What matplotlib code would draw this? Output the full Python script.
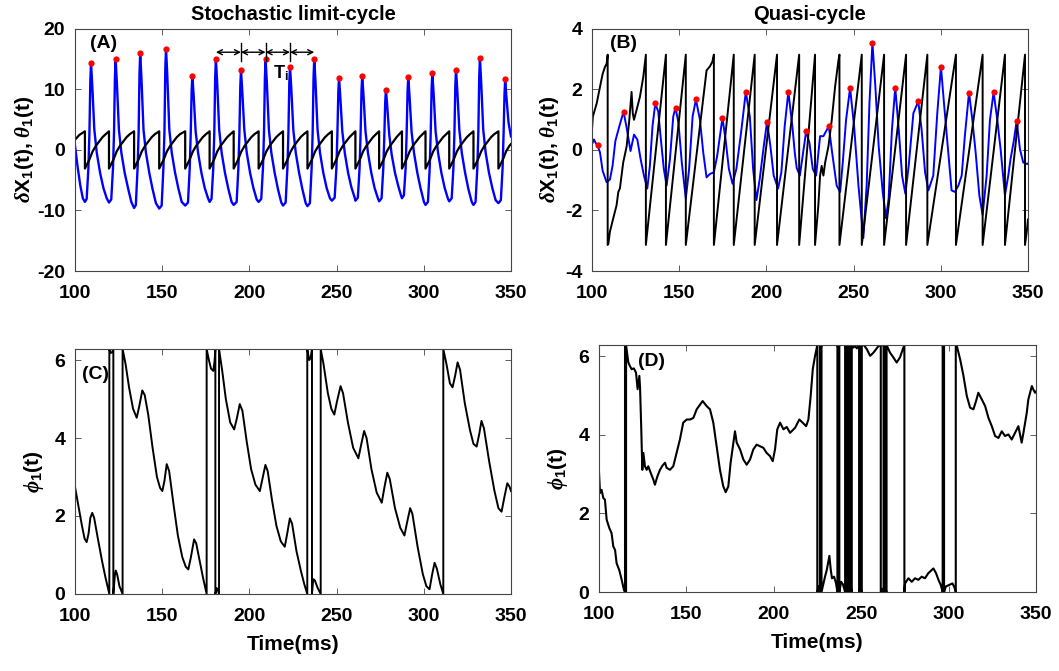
import numpy as np
import matplotlib
matplotlib.use('Agg')
import matplotlib.pyplot as plt

# fonts: narrow bold sans, greek in serif italic
plt.rcParams['font.family'] = ['Liberation Sans Narrow', 'Liberation Sans', 'DejaVu Sans']
plt.rcParams['font.weight'] = 'bold'
plt.rcParams['axes.labelweight'] = 'bold'
plt.rcParams['axes.titleweight'] = 'bold'
plt.rcParams['axes.unicode_minus'] = False
plt.rcParams['mathtext.fontset'] = 'custom'
plt.rcParams['mathtext.rm'] = 'Liberation Sans:bold'
plt.rcParams['mathtext.bf'] = 'Liberation Sans:bold'
plt.rcParams['mathtext.it'] = 'Liberation Serif:italic'

# ---------------- panel A : stochastic limit-cycle ----------------
# spike peaks (red dots)
a_peak_t = [109.2, 123.3, 137.4, 152.2, 167.3, 180.8, 195.2, 209.3, 223.3,
            237.2, 251.4, 264.7, 278.3, 291.1, 304.9, 318.5, 332.2, 346.7]
a_peak_v = [14.3, 14.9, 15.9, 16.7, 12.2, 15.0, 13.1, 14.9, 13.7,
            15.0, 11.9, 12.2, 9.9, 12.0, 12.6, 13.2, 15.1, 11.6]

# delta X_1(t), blue
a_dx_t = [100.0, 101.5, 103.0, 104.5,
          105.7, 106.7, 107.7, 108.3, 108.8, 109.2, 109.9, 111.1, 112.5, 114.4, 116.3, 118.2,
          119.5, 120.8, 121.8, 122.4, 122.9, 123.3, 124.0, 125.2, 126.6, 128.5, 130.4, 132.3,
          133.9, 134.9, 135.9, 136.5, 137.0, 137.4, 138.1, 139.3, 140.7, 142.6, 144.5, 146.4,
          148.3, 149.7, 150.7, 151.3, 151.8, 152.2, 152.9, 154.1, 155.5, 157.4, 159.3, 161.2,
          163.2, 164.8, 165.8, 166.4, 166.9, 167.3, 168.0, 169.2, 170.6, 172.5, 174.4, 176.3,
          177.2, 178.3, 179.3, 179.9, 180.4, 180.8, 181.5, 182.7, 184.1, 186.0, 187.9, 189.8,
          191.0, 192.7, 193.7, 194.3, 194.8, 195.2, 195.9, 197.1, 198.5, 200.4, 202.3, 204.2,
          205.3, 206.8, 207.8, 208.4, 208.9, 209.3, 210.0, 211.2, 212.6, 214.5, 216.4, 218.3,
          219.3, 220.8, 221.8, 222.4, 222.9, 223.3, 224.0, 225.2, 226.6, 228.5, 230.4, 232.3,
          233.3, 234.7, 235.7, 236.3, 236.8, 237.2, 237.9, 239.1, 240.5, 242.4, 244.3, 246.2,
          247.3, 248.9, 249.9, 250.5, 251.0, 251.4, 252.1, 253.3, 254.7, 256.6, 258.5, 260.4,
          260.8, 262.2, 263.2, 263.8, 264.3, 264.7, 265.4, 266.6, 268.0, 269.9, 271.8, 273.7,
          274.4, 275.8, 276.8, 277.4, 277.9, 278.3, 279.0, 280.2, 281.6, 283.5, 285.4, 287.0,
          287.5, 288.6, 289.6, 290.2, 290.7, 291.1, 291.8, 293.0, 294.4, 296.3, 298.2, 300.1,
          301.0, 302.4, 303.4, 304.0, 304.5, 304.9, 305.6, 306.8, 308.2, 310.1, 312.0, 313.9,
          314.6, 316.0, 317.0, 317.6, 318.1, 318.5, 319.2, 320.4, 321.8, 323.7, 325.6, 327.5,
          328.5, 329.7, 330.7, 331.3, 331.8, 332.2, 332.9, 334.1, 335.5, 337.4, 339.3, 341.2,
          342.8, 344.2, 345.2, 345.8, 346.3, 346.7, 347.4, 348.6, 350.0]
a_dx_v = [0.7, -2.8, -5.8, -8.0,
          -8.6, -8.1, -3.0, 3.0, 11.4, 14.3, 10.7, 3.3, -0.5, -3.8, -6.3, -8.0,
          -8.7, -8.2, -3.0, 3.0, 11.9, 14.9, 11.2, 3.3, -0.5, -3.8, -6.3, -8.6,
          -9.6, -9.1, -3.0, 3.0, 12.7, 15.9, 11.9, 3.3, -0.5, -3.8, -6.5, -8.8,
          -9.7, -9.2, -3.0, 3.0, 13.4, 16.7, 12.5, 3.3, -0.5, -3.8, -6.4, -8.6,
          -9.2, -8.7, -3.0, 3.0, 9.8, 12.2, 9.2, 3.0, -0.5, -3.8, -6.3, -8.0,
          -8.6, -8.1, -3.0, 3.0, 12.0, 15.0, 11.3, 3.3, -0.5, -3.8, -6.4, -8.6,
          -9.1, -8.6, -3.0, 3.0, 10.5, 13.1, 9.8, 3.3, -0.5, -3.8, -6.3, -8.2,
          -8.6, -8.1, -3.0, 3.0, 11.9, 14.9, 11.2, 3.3, -0.5, -3.8, -6.5, -8.7,
          -9.2, -8.7, -3.0, 3.0, 11.0, 13.7, 10.3, 3.3, -0.5, -3.8, -6.5, -8.8,
          -9.3, -8.8, -3.0, 3.0, 12.0, 15.0, 11.3, 3.3, -0.5, -3.8, -6.3, -8.0,
          -8.4, -7.9, -3.0, 3.0, 9.5, 11.9, 8.9, 3.0, -0.5, -3.8, -6.2, -7.9,
          -8.4, -7.9, -3.0, 3.0, 9.8, 12.2, 9.2, 3.0, -0.5, -3.8, -6.3, -8.0,
          -8.5, -8.0, -3.0, 2.5, 7.9, 9.9, 7.4, 2.5, -0.8, -3.8, -6.0, -7.6,
          -8.0, -7.5, -3.0, 3.0, 9.6, 12.0, 9.0, 3.0, -0.5, -3.8, -6.4, -8.6,
          -9.1, -8.6, -3.0, 3.0, 10.1, 12.6, 9.5, 3.0, -0.5, -3.8, -6.3, -8.1,
          -8.5, -8.0, -3.0, 3.0, 10.6, 13.2, 9.9, 3.3, -0.5, -3.8, -6.5, -8.6,
          -9.1, -8.6, -3.0, 3.0, 12.1, 15.1, 11.3, 3.3, -0.5, -3.8, -6.3, -8.3,
          -8.8, -8.3, -3.0, 3.0, 9.3, 11.6, 8.7, 4.5, 2.2]

# theta_1(t), black sawtooth
a_th_t = [100.0, 102.5, 105.7,
          105.7, 108.2, 110.1, 112.0, 113.9, 115.8, 117.7, 119.5,
          119.5, 122.0, 123.9, 125.8, 127.7, 129.6, 131.5, 133.9,
          133.9, 136.4, 138.3, 140.2, 142.1, 144.0, 145.9, 148.3,
          148.3, 150.8, 152.7, 154.6, 156.5, 158.4, 160.3, 163.2,
          163.2, 165.7, 167.6, 169.5, 171.4, 173.3, 175.2, 177.2,
          177.2, 179.7, 181.6, 183.5, 185.4, 187.3, 189.2, 191.0,
          191.0, 193.5, 195.4, 197.3, 199.2, 201.1, 203.0, 205.3,
          205.3, 207.8, 209.7, 211.6, 213.5, 215.4, 217.3, 219.3,
          219.3, 221.8, 223.7, 225.6, 227.5, 229.4, 231.3, 233.3,
          233.3, 235.8, 237.7, 239.6, 241.5, 243.4, 245.3, 247.3,
          247.3, 249.8, 251.7, 253.6, 255.5, 257.4, 259.2, 260.8,
          260.8, 263.3, 265.2, 267.1, 269.0, 270.9, 272.7, 274.4,
          274.4, 276.9, 278.8, 280.7, 282.6, 284.4, 286.0, 287.5,
          287.5, 290.0, 291.9, 293.8, 295.7, 297.6, 299.4, 301.0,
          301.0, 303.5, 305.4, 307.3, 309.2, 311.1, 313.0, 314.6,
          314.6, 317.1, 319.0, 320.9, 322.8, 324.7, 326.6, 328.5,
          328.5, 331.0, 332.9, 334.8, 336.7, 338.6, 340.5, 342.8,
          342.8, 345.3, 347.2, 349.1, 350.0]
a_th_v = [1.65, 2.45, 3.05] + \
         [-3.1, -1.65, -0.27, 0.66, 1.37, 2.09, 2.6, 3.05] * 17 + \
         [-3.1, -1.65, -0.27, 0.66, 0.95]

# ---------------- panel B : quasi-cycle ----------------
b_peak_t = [103.2, 118.1, 136.3, 147.9, 159.6, 174.8, 188.2, 200.4, 212.6, 222.8,
            235.8, 248.0, 260.8, 273.9, 287.1, 300.1, 316.2, 330.3, 343.5]
b_peak_v = [0.15, 1.26, 1.53, 1.39, 1.66, 1.05, 1.91, 0.93, 1.91, 0.61,
            0.78, 2.04, 3.53, 2.05, 1.60, 2.74, 1.89, 1.90, 0.95]

b_dx_t = [100.0, 101.1, 102.3, 103.2, 104.6, 106.1, 108.4, 110.3, 111.8, 113.4,
          115.7, 118.1, 119.9, 122.1, 124.1, 126.0, 127.9, 129.8, 131.7, 133.2,
          134.7, 136.3, 138.0, 139.5, 141.2, 142.8, 144.7, 146.6, 147.9, 149.6,
          151.5, 153.8, 155.7, 157.7, 159.6, 161.9, 163.8, 165.7, 167.6, 169.9,
          171.8, 174.8, 176.6, 178.5, 180.6, 182.8, 185.7, 188.2, 190.5, 192.4,
          194.3, 196.2, 198.5, 200.4, 202.3, 204.2, 206.7, 208.6, 210.5, 212.6,
          214.9, 216.3, 217.4, 219.2, 221.1, 222.8, 224.7, 226.6, 228.5, 230.8,
          232.7, 235.8, 237.7, 240.3, 242.3, 243.8, 245.7, 248.0, 250.3, 252.8,
          255.6, 257.5, 259.1, 260.8, 262.5, 264.4, 266.7, 268.6, 270.1, 272.0,
          273.9, 275.9, 277.8, 279.7, 281.6, 284.3, 287.1, 289.0, 291.0, 292.9,
          295.7, 298.0, 300.1, 302.0, 304.3, 306.2, 308.1, 310.1, 312.0, 313.8,
          316.2, 318.1, 320.0, 322.1, 324.0, 326.3, 328.2, 330.3, 332.4, 334.3,
          336.8, 338.7, 340.0, 342.0, 343.5, 345.4, 347.3, 349.6, 350.0]
b_dx_v = [0.18, 0.34, 0.21, 0.15, -0.09, -0.69, -1.07, -0.98, -0.53, 0.29,
          0.78, 1.26, 0.72, -0.04, 0.50, 0.34, -0.31, -0.85, -1.28, -0.53,
          0.78, 1.53, 1.26, 0.34, -0.63, -1.18, -0.31, 1.10, 1.39, 0.88,
          -0.42, -1.61, -0.63, 1.10, 1.66, 0.99, -0.09, -0.91, -0.80, -0.74,
          -0.20, 1.05, 0.34, -0.63, -1.12, -0.63, 0.67, 1.91, 1.10, -0.63,
          -1.66, -0.96, 0.12, 0.93, 0.12, -0.85, -1.28, -0.74, 0.78, 1.91,
          0.78, -0.10, -0.60, -0.85, -0.09, 0.61, 0.23, -0.63, -0.85, 0.45,
          0.45, 0.78, -0.09, -1.18, -1.39, -0.42, 0.99, 2.04, 0.78, -1.18,
          -2.91, -1.18, 1.53, 3.53, 2.08, 0.12, -1.39, -2.26, -1.61, 0.67,
          2.05, 0.67, -0.85, -1.45, -0.53, 1.21, 1.60, 0.67, -0.74, -1.34,
          -0.85, 1.21, 2.74, 1.43, -0.09, -1.34, -1.39, -1.18, -0.85, 0.45,
          1.89, 0.99, -0.09, -1.50, -2.15, -0.85, 0.99, 1.90, 0.99, 0.02,
          -1.50, -0.85, -0.31, 0.34, 0.95, 0.02, -0.42, -0.47, -0.45]

b_th_t = [100.0, 100.5, 102.7, 104.6, 106.1, 107.4, 108.4, 109.0,
          109.0, 109.4, 110.3, 112.2, 114.1, 115.1, 116.0, 117.9, 119.9, 121.4,
          122.7, 123.4, 124.1, 125.6, 127.5, 129.4, 130.9,
          130.9, 142.4, 142.4, 153.8,
          153.8, 165.7, 167.6, 169.0, 169.9,
          169.9, 181.3, 181.3, 193.3, 193.3, 206.1, 206.1, 218.8, 218.8, 227.9,
          227.9, 229.8, 230.8, 231.7, 232.7, 233.7, 235.6, 237.5, 239.4, 241.3, 241.9,
          241.9, 254.7, 254.7, 267.5, 267.5, 280.1, 280.1, 292.3, 292.3, 308.7,
          308.7, 324.0, 324.0, 336.8, 336.8, 348.3,
          348.3, 349.3, 350.0]
b_th_v = [0.67, 1.10, 1.53, 2.08, 2.50, 2.73, 2.84, 3.14,
          -3.14, -3.10, -2.70, -2.26, -1.83, -1.39, -1.28, -0.42, 0.12, 0.99,
          1.91, 1.20, 0.99, 1.32, 1.75, 2.40, 3.14,
          -3.14, 3.14, -3.14, 3.14,
          -3.14, 2.62, 2.75, 2.90, 3.14,
          -3.14, 3.14, -3.14, 3.14, -3.14, 3.14, -3.14, 3.14, -3.14, 3.14,
          -3.14, -1.83, -0.85, -0.53, -0.85, -0.42, 0.12, 0.99, 2.08, 2.94, 3.14,
          -3.14, 3.14, -3.14, 3.14, -3.14, 3.14, -3.14, 3.14, -3.14, 3.14,
          -3.14, 3.14, -3.14, 3.14, -3.14, 3.14,
          -3.14, -2.70, -2.30]

# ---------------- panel C : phase, limit-cycle ----------------
TWO_PI = 2 * np.pi
c_phi_t = [100.0, 102.0, 104.0, 105.5, 106.7, 107.8, 108.8, 109.9, 111.0, 113.0,
           115.5, 117.5, 119.7, 119.7, 120.3, 121.3, 122.0, 122.0, 122.8, 123.4,
           124.2, 125.5, 127.3, 127.3, 129.0, 131.0, 133.3, 135.4, 136.8, 138.6,
           140.0, 142.0, 144.5, 147.0, 148.8, 150.1, 151.3, 152.6, 154.0, 156.5,
           159.0, 161.5, 163.5, 165.0, 166.5, 168.3, 169.5, 171.5, 173.5, 175.5,
           175.5, 176.8, 178.0, 179.3, 180.0, 180.5, 180.5, 181.2, 181.8, 182.6,
           182.6, 184.5, 186.5, 189.0, 191.3, 192.8, 194.5, 196.0, 198.5, 201.0,
           203.5, 206.0, 207.5, 209.2, 210.5, 213.0, 215.5, 218.0, 220.3, 221.7,
           223.2, 224.5, 227.0, 229.5, 231.5, 233.2, 233.2, 234.3, 235.1, 235.9,
           235.9, 236.6, 237.5, 239.2, 240.9, 240.9, 242.5, 245.0, 247.0, 248.7,
           250.3, 252.3, 253.7, 256.5, 259.5, 262.5, 264.2, 265.8, 267.2, 270.0,
           273.0, 275.9, 277.5, 279.1, 280.5, 283.5, 286.5, 288.9, 290.5, 292.2,
           293.5, 296.5, 299.5, 301.5, 303.3, 304.8, 306.2, 307.5, 309.5, 311.2,
           311.2, 313.0, 315.0, 316.5, 318.0, 319.4, 320.8, 323.5, 326.5, 328.5,
           330.3, 331.8, 333.1, 334.5, 337.5, 340.5, 342.8, 344.6, 346.3, 347.9,
           349.2, 350.0]
c_phi_v = [2.75, 2.25, 1.75, 1.42, 1.33, 1.55, 1.95, 2.08, 1.95, 1.45,
           0.85, 0.42, 0.0, TWO_PI, 6.18, 6.20, TWO_PI, 0.0, 0.45, 0.60,
           0.50, 0.20, 0.0, TWO_PI, 5.90, 5.30, 4.75, 4.52, 4.80, 5.22,
           5.10, 4.60, 3.75, 3.00, 2.72, 2.64, 2.90, 3.33, 3.15, 2.30,
           1.50, 0.95, 0.70, 0.63, 0.95, 1.40, 1.30, 0.85, 0.40, 0.0,
           TWO_PI, 6.00, 5.78, 5.72, 5.95, TWO_PI, 0.0, 0.15, 0.12, 0.0,
           TWO_PI, 5.70, 5.00, 4.40, 4.22, 4.50, 4.87, 4.70, 3.90, 3.20,
           2.80, 2.64, 2.95, 3.31, 3.15, 2.40, 1.75, 1.35, 1.21, 1.55,
           1.94, 1.80, 1.10, 0.60, 0.25, 0.0, TWO_PI, 6.00, 6.05, TWO_PI,
           0.0, 0.38, 0.35, 0.15, 0.0, TWO_PI, 5.90, 5.15, 4.75, 4.60,
           4.95, 5.33, 5.15, 4.40, 3.75, 3.48, 3.85, 4.18, 4.00, 3.20,
           2.60, 2.34, 2.75, 3.11, 2.95, 2.20, 1.70, 1.50, 1.85, 2.20,
           2.05, 1.20, 0.50, 0.20, 0.12, 0.50, 0.80, 0.65, 0.25, 0.0,
           TWO_PI, 5.90, 5.40, 5.30, 5.60, 5.94, 5.75, 4.90, 4.20, 3.85,
           3.78, 4.10, 4.44, 4.25, 3.40, 2.65, 2.20, 2.11, 2.50, 2.84,
           2.75, 2.64]

# ---------------- panel D : phase, quasi-cycle ----------------
d_phi_t = [100.0, 100.6, 101.5, 102.5, 103.4, 104.4, 105.9, 107.2, 108.2, 109.2,
           110.1, 111.6, 113.0, 114.3, 114.9, 114.9, 115.1, 115.3, 115.3, 115.5,
           115.5, 115.8, 116.8, 117.7, 118.7, 120.0, 121.2, 122.1, 123.1, 123.5,
           124.2, 124.8, 125.4, 126.3, 127.3, 128.2, 129.6, 131.1, 132.0, 133.4,
           134.9, 136.4, 137.8, 138.7, 140.6, 142.5, 144.4, 146.3, 148.2, 150.2,
           152.1, 154.0, 155.9, 157.8, 159.3, 161.6, 163.5, 165.4, 167.3, 169.2,
           171.1, 172.5, 174.0, 175.3, 176.9, 177.8, 178.8, 180.7, 182.6, 184.5,
           186.4, 188.3, 190.2, 192.1, 194.0, 195.9, 197.8, 199.4, 200.7, 202.0,
           203.6, 205.5, 207.4, 209.3, 212.2, 214.6, 216.5, 218.5, 219.8, 221.1,
           222.3, 223.6, 224.9,
           224.9, 225.8, 226.4, 226.4, 226.9, 227.3, 227.3, 227.8, 228.4, 229.3,
           230.3, 231.8, 232.6, 233.3, 234.5, 235.6, 236.4, 236.4, 237.0, 237.5,
           237.5, 238.5, 239.5, 240.8, 240.8, 241.3, 241.7, 241.7, 242.2, 242.7,
           242.7, 243.2, 243.6, 243.6, 244.1, 244.6, 244.6, 245.5, 246.5, 247.5,
           248.8, 248.8, 249.2, 249.5, 249.5, 249.7, 249.9, 249.9, 250.1, 250.3,
           250.3, 251.6, 253.2, 255.1, 257.0, 258.5, 259.9, 261.2, 261.2, 262.0,
           262.8, 262.8, 263.2, 263.6, 263.6, 264.1, 264.5, 264.5, 266.5, 268.4,
           270.3, 272.2, 273.8, 274.7, 274.7, 275.1, 277.0, 278.9, 280.8, 282.7,
           284.6, 286.5, 288.4, 290.3, 291.3, 292.8, 294.2, 295.5, 296.6, 296.6,
           297.0, 297.4, 297.4, 298.4, 300.3, 302.2, 303.3, 304.1, 304.1,
           304.7, 306.6, 308.5, 310.4, 312.3, 314.2, 315.7, 317.0, 319.0, 320.9,
           322.8, 324.7, 326.6, 328.5, 330.4, 332.3, 334.2, 336.1, 338.0, 339.9,
           341.8, 342.8, 344.7, 345.6, 346.6, 347.6, 348.5, 349.5, 350.0]
d_phi_v = [3.07, 2.52, 2.60, 2.39, 2.35, 1.84, 1.63, 1.50, 1.16, 1.07,
           0.73, 0.56, 0.31, 0.05, 0.0, TWO_PI, 6.20, TWO_PI, 0.0, 0.0,
           TWO_PI, 6.18, 5.84, 5.75, 5.67, 5.69, 5.58, 5.16, 5.50, 5.20,
           4.14, 3.11, 3.54, 3.20, 3.11, 3.20, 3.03, 2.86, 2.73, 2.94,
           3.11, 3.22, 3.29, 3.16, 3.11, 3.20, 3.54, 3.88, 4.31, 4.39,
           4.39, 4.43, 4.65, 4.77, 4.86, 4.73, 4.65, 4.31, 3.71, 3.11,
           2.69, 2.54, 2.69, 3.29, 3.80, 4.09, 3.80, 3.63, 3.37, 3.24,
           3.37, 3.63, 3.75, 3.71, 3.67, 3.54, 3.46, 3.33, 3.63, 4.14,
           4.31, 4.14, 4.20, 4.05, 4.18, 4.39, 4.31, 4.22, 4.39, 4.99,
           5.67, 6.01, TWO_PI,
           0.0, 0.15, 0.0, TWO_PI, 6.20, TWO_PI, 0.0, 0.10, 0.22, 0.39,
           0.56, 0.92, 0.56, 0.35, 0.39, 0.22, 0.0, TWO_PI, 6.20, TWO_PI,
           0.0, 0.26, 0.20, 0.0, TWO_PI, 6.20, TWO_PI, 0.0, 0.10, 0.0,
           TWO_PI, 6.20, TWO_PI, 0.0, 0.10, 0.0, TWO_PI, 6.22, 6.26, 6.20,
           TWO_PI, 0.0, 0.05, 0.0, TWO_PI, 6.25, TWO_PI, 0.0, 0.03, 0.0,
           TWO_PI, 6.28, 6.18, 6.01, 6.09, 6.18, 6.26, TWO_PI, 0.0, 0.08,
           0.0, TWO_PI, 6.22, TWO_PI, 0.0, 0.05, 0.0, TWO_PI, 6.09, 5.97,
           5.84, 5.97, 6.18, TWO_PI, 0.0, 0.22, 0.35, 0.26, 0.35, 0.31,
           0.39, 0.35, 0.48, 0.56, 0.60, 0.48, 0.31, 0.18, 0.0, TWO_PI,
           6.20, TWO_PI, 0.0, 0.14, 0.18, 0.22, 0.12, 0.0, TWO_PI,
           6.26, 5.92, 5.50, 4.99, 4.69, 4.65, 4.86, 5.07, 4.90, 4.73,
           4.43, 4.22, 3.97, 3.92, 4.09, 3.97, 4.01, 3.88, 4.05, 4.22,
           3.80, 4.05, 4.56, 4.90, 5.07, 5.24, 5.15, 5.07, 5.10]

# inter-spike interval annotation in panel A
isi_t = [180.8, 195.2, 209.3, 223.3, 237.2]
isi_level = 16.1

time_ticks = [100, 150, 200, 250, 300, 350]


def style_axes(ax):
    ax.set_xlim(100, 350)
    ax.set_xticks(time_ticks)
    ax.tick_params(direction='in', top=True, right=True, length=4, width=0.6,
                   labelsize=14, color='#444444')
    ax.tick_params(axis='x', pad=10)
    ax.tick_params(axis='y', pad=7)
    for lab in ax.get_xticklabels() + ax.get_yticklabels():
        lab.set_fontweight('bold')
    for s in ax.spines.values():
        s.set_color('#444444')
        s.set_linewidth(0.8)


fig = plt.figure(figsize=(10.59, 6.71), dpi=100)
axA = fig.add_axes([0.0708, 0.5961, 0.4117, 0.3613])
axB = fig.add_axes([0.5590, 0.5961, 0.4117, 0.3613])
axC = fig.add_axes([0.0708, 0.1148, 0.4117, 0.3651])
axD = fig.add_axes([0.5656, 0.1177, 0.4127, 0.3680])

dx_label = r'$\delta$X$_1$(t), $\theta_1$(t)'
phi_label = r'$\phi_1$(t)'

# panel A
axA.plot(a_dx_t, a_dx_v, color='#0000ff', lw=1.7)
axA.plot(a_th_t, a_th_v, color='k', lw=1.6)
axA.plot(a_peak_t, a_peak_v, 'o', color='#ff0000', ms=4.5, mec='none')
for i in range(len(isi_t) - 1):
    axA.annotate('', xy=(isi_t[i + 1], isi_level), xytext=(isi_t[i], isi_level),
                 arrowprops=dict(arrowstyle='<->', color='k', lw=1.0,
                                 shrinkA=0, shrinkB=0, mutation_scale=9))
for t in isi_t[1:4]:
    axA.plot([t, t], [isi_level - 1.5, isi_level + 1.5], color='k', lw=1.0)
axA.text(213.8, 12.6, r'T$_\mathrm{i}$', fontsize=13, fontweight='bold',
         ha='left', va='center')
axA.set_ylim(-20, 20)
axA.set_yticks([-20, -10, 0, 10, 20])
axA.set_ylabel(dx_label, fontsize=15, fontweight='bold', labelpad=1)
axA.set_title('Stochastic limit-cycle', fontsize=14.5, fontweight='bold', pad=6)
axA.text(0.034, 0.975, '(A)', transform=axA.transAxes, fontsize=14,
         fontweight='bold', ha='left', va='top')
style_axes(axA)

# panel B
axB.plot(b_dx_t, b_dx_v, color='#0000ff', lw=1.4)
axB.plot(b_th_t, b_th_v, color='k', lw=1.4)
axB.plot(b_peak_t, b_peak_v, 'o', color='#ff0000', ms=4.5, mec='none')
axB.set_ylim(-4, 4)
axB.set_yticks([-4, -2, 0, 2, 4])
axB.set_ylabel(dx_label, fontsize=15, fontweight='bold', labelpad=3)
axB.set_title('Quasi-cycle', fontsize=14.5, fontweight='bold', pad=6)
axB.text(0.041, 0.975, '(B)', transform=axB.transAxes, fontsize=14,
         fontweight='bold', ha='left', va='top')
style_axes(axB)

# panel C
axC.plot(c_phi_t, c_phi_v, color='k', lw=1.4)
axC.set_ylim(0, TWO_PI)
axC.set_yticks([0, 2, 4, 6])
axC.set_ylabel(phi_label, fontsize=15, fontweight='bold', labelpad=6)
axC.set_xlabel('Time(ms)', fontsize=15, fontweight='bold', labelpad=7)
axC.text(0.015, 0.93, '(C)', transform=axC.transAxes, fontsize=14,
         fontweight='bold', ha='left', va='top')
style_axes(axC)

# panel D
axD.plot(d_phi_t, d_phi_v, color='k', lw=1.5)
axD.set_ylim(0, TWO_PI)
axD.set_yticks([0, 2, 4, 6])
axD.set_ylabel(phi_label, fontsize=15, fontweight='bold', labelpad=6)
axD.set_xlabel('Time(ms)', fontsize=15, fontweight='bold', labelpad=7)
axD.text(0.089, 0.97, '(D)', transform=axD.transAxes, fontsize=14,
         fontweight='bold', ha='left', va='top')
style_axes(axD)

fig.savefig('out.png', dpi=100)
